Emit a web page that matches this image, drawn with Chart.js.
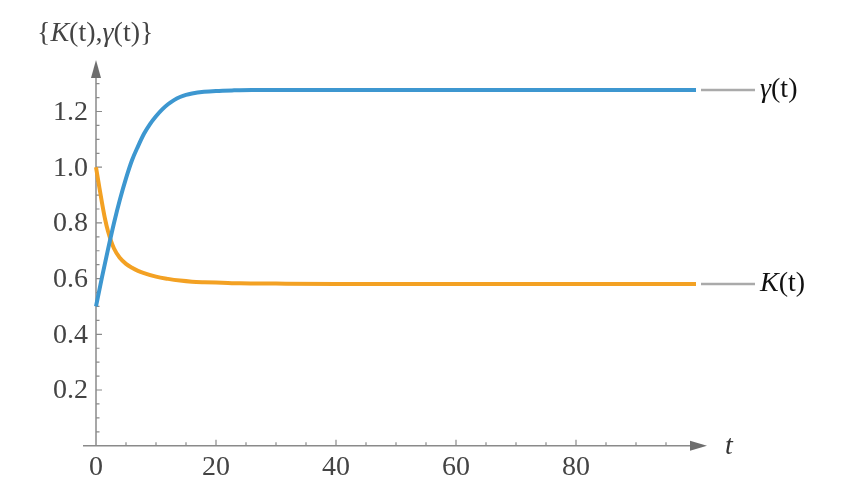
<!DOCTYPE html>
<html>
<head>
<meta charset="utf-8">
<script src="https://cdn.jsdelivr.net/npm/chart.js@4/dist/chart.umd.min.js"></script>
<style>
  html, body { margin: 0; padding: 0; background: #fff; }
  #wrap { width: 868px; height: 495px; }
  .fontwarm { position: absolute; left: -999px; top: 0; font-family: 'Liberation Serif'; }
</style>
</head>
<body>
<div class="fontwarm">0.8 <i>K γ t</i></div>
<div id="wrap"><canvas id="plot" width="868" height="495"></canvas></div>
<script>
// values
const tGamma = [0, 1, 2, 3, 4, 5, 6, 7, 8, 9, 10, 11, 12, 13, 14, 15, 16, 18, 20, 23, 26, 40, 60, 80, 100];
const gammaVals = [0.50, 0.605, 0.705, 0.80, 0.885, 0.96, 1.025, 1.075, 1.12, 1.155, 1.183, 1.207, 1.226, 1.241, 1.252, 1.26, 1.265, 1.271, 1.274, 1.276, 1.277, 1.277, 1.277, 1.277, 1.277];

const tK = [0, 0.5, 1, 1.5, 2, 3, 4, 5, 6, 7, 8, 10, 12, 14, 16, 18, 21, 24, 30, 40, 60, 80, 100];
const kVals = [1.0, 0.935, 0.872, 0.815, 0.77, 0.708, 0.674, 0.653, 0.639, 0.628, 0.62, 0.607, 0.599, 0.593, 0.589, 0.587, 0.585, 0.583, 0.582, 0.581, 0.581, 0.581, 0.581];

const xMajorTicks = [0, 20, 40, 60, 80];
const yMajorTicks = [0.2, 0.4, 0.6, 0.8, 1.0, 1.2];

const BLUE = '#3d97d0';
const ORANGE = '#f3a123';
const SERIF = '"Liberation Serif", "DejaVu Serif", serif';

function toPoints(xs, ys) {
    return xs.map(function(x, i) { return { x: x, y: ys[i] }; });
}

// draw a run of text pieces, some italic
function drawRuns(ctx, runs, x, y, size) {
    let cx = x;
    runs.forEach(function(r) {
        ctx.font = (r.it ? 'italic ' : '') + size + 'px ' + SERIF;
        ctx.fillText(r.s, cx, y);
        cx += ctx.measureText(r.s).width;
    });
}

// Mathematica-like axes: arrows, inward ticks, labels, curve tags
const axesPlugin = {
    id: 'mmaAxes',
    beforeDatasetsDraw(chart) {
        const ctx = chart.ctx;
        const xs = chart.scales.x, ys = chart.scales.y;
        const x0 = xs.getPixelForValue(0);
        const y0 = ys.getPixelForValue(0);
        const area = chart.chartArea;

        ctx.save();
        ctx.strokeStyle = '#8a8a8a';
        ctx.lineWidth = 1.5;
        ctx.beginPath();
        ctx.moveTo(area.left, y0);
        ctx.lineTo(area.right - 10, y0);
        ctx.moveTo(x0, y0);
        ctx.lineTo(x0, area.top + 10);
        ctx.stroke();

        // arrow heads
        ctx.fillStyle = '#6e6e6e';
        ctx.beginPath();
        ctx.moveTo(area.right, y0);
        ctx.lineTo(area.right - 17, y0 - 5);
        ctx.lineTo(area.right - 17, y0 + 5);
        ctx.closePath();
        ctx.fill();
        ctx.beginPath();
        ctx.moveTo(x0, area.top);
        ctx.lineTo(x0 - 5, area.top + 18);
        ctx.lineTo(x0 + 5, area.top + 18);
        ctx.closePath();
        ctx.fill();

        // ticks
        ctx.strokeStyle = '#8a8a8a';
        ctx.lineWidth = 1.2;
        ctx.beginPath();
        for (let t = 5; t <= 95; t += 5) {
            const px = xs.getPixelForValue(t);
            const len = (t % 20 === 0) ? 6 : 3.5;
            ctx.moveTo(px, y0);
            ctx.lineTo(px, y0 - len);
        }
        for (let k = 1; k <= 26; k++) {
            const v = k * 0.05;
            const py = ys.getPixelForValue(v);
            const len = (k % 4 === 0) ? 6 : 3.5;
            ctx.moveTo(x0, py);
            ctx.lineTo(x0 + len, py);
        }
        ctx.stroke();

        // tick labels
        ctx.fillStyle = '#444';
        ctx.font = '28px ' + SERIF;
        ctx.textBaseline = 'middle';
        ctx.textAlign = 'center';
        xMajorTicks.forEach(function(t) {
            ctx.fillText(String(t), xs.getPixelForValue(t), y0 + 22);
        });
        ctx.textAlign = 'right';
        yMajorTicks.forEach(function(v) {
            ctx.fillText(v.toFixed(1), x0 - 8, ys.getPixelForValue(v) + 1);
        });

        // axis labels
        ctx.textAlign = 'left';
        ctx.fillStyle = '#444';
        drawRuns(ctx, [{ s: '{' }, { s: 'K', it: true }, { s: '(t),' }, { s: 'γ', it: true }, { s: '(t)}' }], 37, 34, 28);
        ctx.fillStyle = '#333';
        drawRuns(ctx, [{ s: 't', it: true }], area.right + 18, y0 + 1, 28);
        ctx.restore();
    },
    afterDatasetsDraw(chart) {
        const ctx = chart.ctx;
        const xs = chart.scales.x, ys = chart.scales.y;
        const tags = [
            { runs: [{ s: 'γ', it: true }, { s: '(t)' }], t: tGamma[tGamma.length - 1], v: gammaVals[gammaVals.length - 1] },
            { runs: [{ s: 'K', it: true }, { s: '(t)' }], t: tK[tK.length - 1], v: kVals[kVals.length - 1] }
        ];
        ctx.save();
        tags.forEach(function(tag) {
            const px = xs.getPixelForValue(tag.t);
            const py = ys.getPixelForValue(tag.v);
            ctx.strokeStyle = '#aaaaaa';
            ctx.lineWidth = 2.5;
            ctx.beginPath();
            ctx.moveTo(px + 5, py);
            ctx.lineTo(px + 59, py);
            ctx.stroke();
            ctx.fillStyle = '#111';
            ctx.textAlign = 'left';
            ctx.textBaseline = 'middle';
            drawRuns(ctx, tag.runs, px + 64, py, 28);
        });
        ctx.restore();
    }
};

function buildChart() {
    new Chart(document.getElementById('plot'), {
        type: 'line',
        data: {
            datasets: [
                {
                    label: 'γ(t)',
                    data: toPoints(tGamma, gammaVals),
                    borderColor: BLUE,
                    borderWidth: 4,
                    pointRadius: 0,
                    cubicInterpolationMode: 'monotone',
                    fill: false
                },
                {
                    label: 'K(t)',
                    data: toPoints(tK, kVals),
                    borderColor: ORANGE,
                    borderWidth: 4,
                    pointRadius: 0,
                    cubicInterpolationMode: 'monotone',
                    fill: false
                }
            ]
        },
        options: {
            responsive: false,
            animation: false,
            events: [],
            layout: { padding: { left: 83, right: 161, top: 60, bottom: 49.3 } },
            plugins: { legend: { display: false }, tooltip: { enabled: false } },
            scales: {
                x: { type: 'linear', display: false, min: -13 / 6, max: 611 / 6 },
                y: { type: 'linear', display: false, min: 0, max: 1.385 }
            }
        },
        plugins: [axesPlugin]
    });
}

Promise.all([
    document.fonts.load('28px "Liberation Serif"'),
    document.fonts.load('italic 28px "Liberation Serif"')
]).then(buildChart, buildChart);
</script>
</body>
</html>
